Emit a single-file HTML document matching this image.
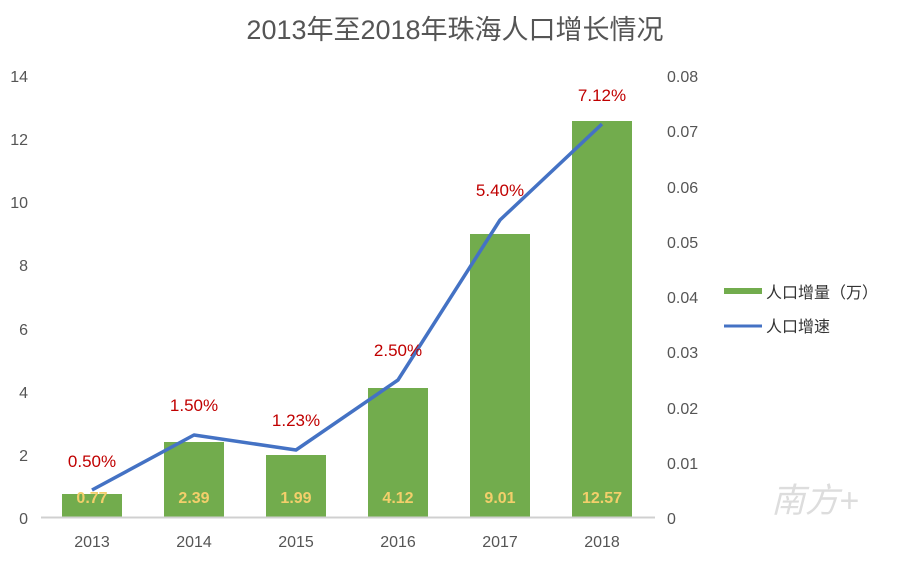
<!DOCTYPE html>
<html><head><meta charset="utf-8"><style>
body{margin:0;background:#fff;}
text{font-family:"Liberation Sans","Noto Sans CJK SC",sans-serif;}
</style></head><body>
<svg width="908" height="562" xmlns="http://www.w3.org/2000/svg">
<rect width="908" height="562" fill="#fff"/>
<text x="455" y="39" font-size="27" fill="#555" text-anchor="middle">2013年至2018年珠海人口增长情况</text>
<g font-size="16" fill="#555" text-anchor="end">
<text x="28" y="82">14</text><text x="28" y="145">12</text><text x="28" y="208">10</text>
<text x="28" y="271">8</text><text x="28" y="335">6</text><text x="28" y="398">4</text>
<text x="28" y="461">2</text><text x="28" y="524">0</text>
</g>
<g font-size="16" fill="#555" text-anchor="start">
<text x="667" y="82">0.08</text><text x="667" y="137">0.07</text><text x="667" y="193">0.06</text>
<text x="667" y="248">0.05</text><text x="667" y="303">0.04</text><text x="667" y="358">0.03</text>
<text x="667" y="414">0.02</text><text x="667" y="469">0.01</text><text x="667" y="524">0</text>
</g>
<g fill="#72ac4d">
<rect x="62" y="494" width="60" height="24"/>
<rect x="164" y="442" width="60" height="76"/>
<rect x="266" y="455" width="60" height="63"/>
<rect x="368" y="388" width="60" height="130"/>
<rect x="470" y="234" width="60" height="284"/>
<rect x="572" y="121" width="60" height="397"/>
</g>
<line x1="41" y1="517.5" x2="655" y2="517.5" stroke="#d0d0d0" stroke-width="2"/>
<polyline points="92,490 194,435 296,450 398,380 500,220 602,124" fill="none" stroke="#4472c4" stroke-width="3.5" stroke-linejoin="round"/>
<g font-size="16" font-weight="bold" fill="#f3cf6b" text-anchor="middle">
<text x="92" y="503">0.77</text><text x="194" y="503">2.39</text><text x="296" y="503">1.99</text>
<text x="398" y="503">4.12</text><text x="500" y="503">9.01</text><text x="602" y="503">12.57</text>
</g>
<g font-size="17" fill="#c00000" text-anchor="middle">
<text x="92" y="467">0.50%</text><text x="194" y="411">1.50%</text><text x="296" y="426">1.23%</text>
<text x="398" y="356">2.50%</text><text x="500" y="196">5.40%</text><text x="602" y="101">7.12%</text>
</g>
<g font-size="16" fill="#555" text-anchor="middle">
<text x="92" y="547">2013</text><text x="194" y="547">2014</text><text x="296" y="547">2015</text>
<text x="398" y="547">2016</text><text x="500" y="547">2017</text><text x="602" y="547">2018</text>
</g>
<rect x="724" y="288" width="38" height="6" fill="#72ac4d"/>
<text x="766" y="298" font-size="16" fill="#333">人口增量（万）</text>
<line x1="724" y1="326" x2="762" y2="326" stroke="#4472c4" stroke-width="3"/>
<text x="766" y="332" font-size="16" fill="#333">人口增速</text>
<text x="815" y="512" font-size="34" fill="#ddd" text-anchor="middle" font-style="italic">南方+</text>
</svg>
</body></html>
